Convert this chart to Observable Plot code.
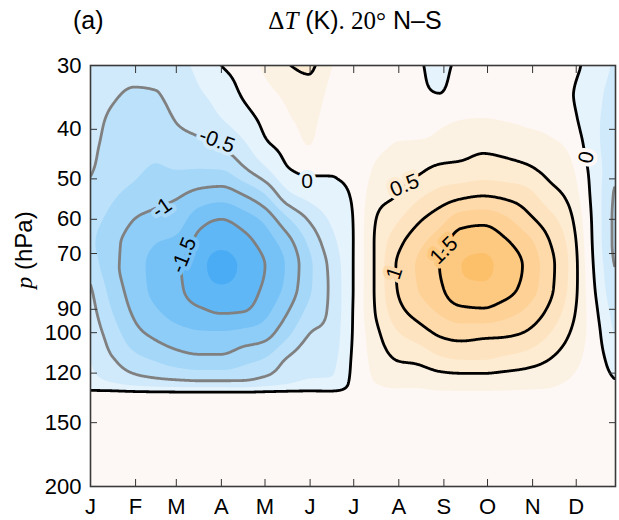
<!DOCTYPE html>
<html>
<head>
<meta charset="utf-8">
<script src="https://cdn.jsdelivr.net/npm/d3@7"></script>
<script src="https://cdn.jsdelivr.net/npm/@observablehq/plot@0.6"></script>
<style>
  body { margin: 0; background: #fff; }
  #fig { position: relative; width: 619px; height: 520px; font-family: "Liberation Sans", Arial, sans-serif; color: #000; }
  #fig svg { position: absolute; left: 0; top: 0; }
  .lbl { position: absolute; white-space: nowrap; line-height: 1; }
  .math { font-family: "Liberation Serif", "DejaVu Serif", serif; }
</style>
</head>
<body>
<div id="fig">
  <div class="lbl" style="left:73px; top:8px; font-size:25px;">(a)</div>
  <div class="lbl" style="left:225px; width:260px; top:8px; font-size:25px; text-align:center;"><span class="math">Δ<i>T</i></span> (K)<span class="math">. 20°</span> N–S</div>
  <div class="lbl" style="left:24px; top:250px; font-size:24px; transform:translate(-50%,-50%) rotate(-90deg);"><span class="math"><i>p</i></span> (hPa)</div>
</div>
<script>
// Month starts (day of year) and their initials along the time axis
const monthStarts = [0, 31, 59, 90, 120, 151, 181, 212, 243, 273, 304, 334];
const monthLabels = ["J", "F", "M", "A", "M", "J", "J", "A", "S", "O", "N", "D"];
// Pressure ticks (hPa) on the log axis
const pressureTicks = [30, 40, 50, 60, 70, 90, 100, 120, 150, 200];

// Sampling grid: day of year (columns) and pressure levels (rows)
const days = [0, 15, 30, 45, 60, 75, 90, 105, 120, 135, 150, 165, 180,
              195, 210, 225, 240, 255, 270, 285, 300, 315, 330, 345, 360];
const pressures = [30, 34, 38, 43, 48, 54, 60, 67, 74, 82, 91, 101, 112, 126, 134, 160, 200];

// Temperature difference ΔT (K), one list per day column, ordered by the pressures above
const dT = [
  [-0.35, -0.38, -0.42, -0.45, -0.48, -0.58, -0.66, -0.70, -0.62, -0.48, -0.40, -0.33, -0.26, -0.15, 0.15, 0.10, 0.10],
  [-0.40, -0.47, -0.53, -0.57, -0.62, -0.72, -0.82, -0.92, -0.92, -0.85, -0.75, -0.62, -0.49, -0.22, 0.15, 0.10, 0.10],
  [-0.42, -0.52, -0.58, -0.63, -0.70, -0.83, -1.00, -1.12, -1.15, -1.12, -1.04, -0.90, -0.68, -0.30, 0.15, 0.10, 0.10],
  [-0.42, -0.51, -0.60, -0.68, -0.78, -0.92, -1.08, -1.25, -1.33, -1.32, -1.22, -1.05, -0.80, -0.35, 0.15, 0.10, 0.10],
  [-0.30, -0.36, -0.47, -0.60, -0.75, -0.98, -1.15, -1.32, -1.47, -1.45, -1.35, -1.15, -0.90, -0.38, 0.15, 0.10, 0.10],
  [-0.20, -0.27, -0.38, -0.56, -0.76, -1.10, -1.40, -1.60, -1.68, -1.65, -1.45, -1.20, -0.95, -0.40, 0.15, 0.10, 0.10],
  [ 0.00, -0.15, -0.25, -0.48, -0.75, -1.15, -1.50, -1.70, -1.84, -1.72, -1.52, -1.20, -0.95, -0.40, 0.15, 0.10, 0.10],
  [ 0.10,  0.03, -0.10, -0.30, -0.55, -1.02, -1.38, -1.60, -1.70, -1.65, -1.50, -1.15, -0.85, -0.40, 0.15, 0.10, 0.10],
  [ 0.30,  0.18,  0.07, -0.05, -0.30, -0.78, -1.18, -1.40, -1.50, -1.45, -1.32, -1.08, -0.75, -0.33, 0.15, 0.10, 0.10],
  [ 0.48,  0.30,  0.22,  0.08, -0.03, -0.35, -0.80, -1.12, -1.22, -1.18, -1.02, -0.80, -0.50, -0.25, 0.15, 0.10, 0.10],
  [ 0.55,  0.40,  0.32,  0.25,  0.05, -0.18, -0.48, -0.72, -0.82, -0.80, -0.68, -0.50, -0.35, -0.20, 0.15, 0.10, 0.10],
  [ 0.27,  0.20,  0.14,  0.08,  0.02, -0.08, -0.22, -0.35, -0.44, -0.46, -0.45, -0.40, -0.32, -0.20, 0.15, 0.10, 0.10],
  [ 0.15,  0.13,  0.10,  0.08,  0.05,  0.02, -0.01, -0.02, -0.02, -0.02, -0.01,  0.00,  0.02,  0.05, 0.10, 0.10, 0.10],
  [ 0.12,  0.13,  0.15,  0.20,  0.27,  0.38,  0.47,  0.50,  0.50,  0.50,  0.48,  0.40,  0.33,  0.24, 0.17, 0.12, 0.10],
  [ 0.12,  0.15,  0.20,  0.26,  0.35,  0.50,  0.70,  0.90,  1.00,  0.98,  0.88,  0.70,  0.52,  0.28, 0.20, 0.12, 0.10],
  [ 0.03,  0.05,  0.16,  0.28,  0.45,  0.70,  0.95,  1.18,  1.28,  1.25,  1.10,  0.85,  0.58,  0.28, 0.20, 0.12, 0.10],
  [-0.06,  0.00,  0.20,  0.32,  0.56,  0.85,  1.15,  1.40,  1.50,  1.45,  1.28,  1.02,  0.72,  0.32, 0.20, 0.12, 0.10],
  [ 0.05,  0.12,  0.24,  0.40,  0.58,  0.95,  1.38,  1.65,  1.75,  1.70,  1.42,  1.08,  0.78,  0.33, 0.20, 0.12, 0.10],
  [ 0.06,  0.13,  0.25,  0.45,  0.62,  1.00,  1.42,  1.68,  1.80,  1.70,  1.45,  1.05,  0.78,  0.33, 0.20, 0.12, 0.10],
  [ 0.05,  0.12,  0.23,  0.42,  0.60,  0.95,  1.30,  1.55,  1.65,  1.60,  1.35,  1.03,  0.72,  0.32, 0.20, 0.12, 0.10],
  [ 0.05,  0.10,  0.20,  0.36,  0.55,  0.85,  1.08,  1.35,  1.45,  1.40,  1.20,  0.95,  0.65,  0.30, 0.20, 0.12, 0.10],
  [ 0.04,  0.08,  0.17,  0.30,  0.43,  0.62,  0.85,  1.03,  1.10,  1.08,  0.95,  0.75,  0.52,  0.28, 0.20, 0.12, 0.10],
  [ 0.05,  0.02,  0.07,  0.20,  0.30,  0.42,  0.55,  0.66,  0.70,  0.68,  0.60,  0.48,  0.35,  0.22, 0.15, 0.10, 0.10],
  [-0.10, -0.17, -0.18, -0.15, -0.08, -0.05, -0.02,  0.00,  0.03,  0.07,  0.12,  0.15,  0.15,  0.12, 0.10, 0.10, 0.10],
  [-0.28, -0.32, -0.35, -0.40, -0.45, -0.52, -0.55, -0.55, -0.50, -0.45, -0.35, -0.25, -0.12,  0.03, 0.10, 0.10, 0.10]
];

// Filled bands every 0.25 K and their colours (blue = negative, orange = positive)
const bandEdges = [-1.75, -1.5, -1.25, -1, -0.75, -0.5, -0.25, 0, 0.25, 0.5, 0.75, 1, 1.25, 1.5, 1.75];
const bandColors = ["#4aacf4", "#60b7f6", "#76c2f7", "#8dcdf8", "#a5d7f9", "#bce1fa", "#d1eafb", "#e5f3fc",
                    "#fdf8f6", "#fcf2e4", "#fdebd2", "#fde3bf", "#fedaab", "#fed196", "#fdc980", "#fcc06b"];
const fillThresholds = [-2, ...bandEdges];

// Contour lines: negative in grey, zero and positive in black
const negativeLevels = [-1.5, -1, -0.5];
const positiveLevels = [0, 0.5, 1, 1.5];

// Inline contour labels (level, day of year, pressure, text angle, band behind the text)
const contourLabels = [
  {level: -0.5, day: 87,  p: 42.1, angle: 20,  band: -0.5},
  {level: -1,   day: 49,  p: 57.0, angle: -35, band: -1},
  {level: -1.5, day: 64,  p: 70.5, angle: -68, band: -1.5},
  {level: 0,    day: 149, p: 50.6, angle: 0,   band: -0.25},
  {level: 0.5,  day: 216, p: 51.5, angle: -22, band: 0.5},
  {level: 1,    day: 209, p: 76.5, angle: -72, band: 1},
  {level: 1.5,  day: 243, p: 69.0, angle: -45, band: 1.5},
  {level: 0,    day: 341, p: 45.4, angle: -78, band: 0}
];

// Table of grid samples, row-major (pressure rows, day columns)
const grid = [];
pressures.forEach((p, j) => days.forEach((day, i) => grid.push({day, p, value: dT[i][j]})));

// Monotone (Steffen) cubic slopes for a 1-D profile
function slopes(xs, ys) {
  const n = xs.length, m = new Float64Array(n), h = [], s = [];
  for (let k = 0; k < n - 1; ++k) { h[k] = xs[k + 1] - xs[k]; s[k] = (ys[k + 1] - ys[k]) / h[k]; }
  m[0] = s[0]; m[n - 1] = s[n - 2];
  for (let k = 1; k < n - 1; ++k) {
    const p = (s[k - 1] * h[k] + s[k] * h[k - 1]) / (h[k - 1] + h[k]);
    m[k] = (Math.sign(s[k - 1]) + Math.sign(s[k])) * Math.min(Math.abs(s[k - 1]), Math.abs(s[k]), 0.5 * Math.abs(p));
  }
  return m;
}
function hermite(xs, ys, m, x) {
  const n = xs.length;
  if (x <= xs[0]) return ys[0];
  if (x >= xs[n - 1]) return ys[n - 1];
  const k = Math.min(n - 2, d3.bisectRight(xs, x) - 1);
  const h = xs[k + 1] - xs[k], t = (x - xs[k]) / h, t2 = t * t, t3 = t2 * t;
  return (2 * t3 - 3 * t2 + 1) * ys[k] + (t3 - 2 * t2 + t) * h * m[k]
       + (-2 * t3 + 3 * t2) * ys[k + 1] + (t3 - t2) * h * m[k + 1];
}
// Smooth interpolation of the regular sample grid onto the raster
function monotoneGrid(index, width, height, X, Y, V) {
  const nx = days.length, ny = pressures.length;
  let gx = Array.from({length: nx}, (_, i) => X[i]);
  let gy = Array.from({length: ny}, (_, j) => Y[j * nx]);
  let ix = d3.range(nx), iy = d3.range(ny);
  if (gx[0] > gx[nx - 1]) { gx.reverse(); ix.reverse(); }
  if (gy[0] > gy[ny - 1]) { gy.reverse(); iy.reverse(); }
  const cols = ix.map((i) => iy.map((j) => V[j * nx + i]));
  const colSlopes = cols.map((c) => slopes(gy, c));
  const out = new Float64Array(width * height);
  const row = new Array(nx);
  for (let r = 0; r < height; ++r) {
    for (let c = 0; c < nx; ++c) row[c] = hermite(gy, cols[c], colSlopes[c], r + 0.5);
    const m = slopes(gx, row);
    for (let q = 0; q < width; ++q) out[r * width + q] = hermite(gx, row, m, q + 0.5);
  }
  return out;
}

// Raster bounds a little beyond the frame so contour outlines never run along its edges
const bounds = {x1: -12, x2: 373, y1: 28, y2: 215, clip: true, pixelSize: 1, interpolate: monotoneGrid};

const chart = Plot.plot({
  width: 619,
  height: 520,
  marginTop: 65,
  marginBottom: 34,
  marginLeft: 90,
  marginRight: 4,
  style: {fontFamily: "Liberation Sans, Arial, sans-serif", fontSize: "22px", color: "#000", background: "transparent"},
  x: {domain: [0, 361]},
  y: {type: "log", domain: [30, 200], reverse: true},
  color: {type: "threshold", domain: bandEdges, range: bandColors},
  marks: [
    Plot.frame({fill: bandColors[0], stroke: "none"}),
    Plot.contour(grid, {x: "day", y: "p", fill: "value", thresholds: fillThresholds, stroke: "none", ...bounds}),
    Plot.contour(grid, {x: "day", y: "p", value: "value", thresholds: negativeLevels, fill: "none",
                        stroke: "#808080", strokeWidth: 2.8, strokeLinejoin: "round", ...bounds}),
    Plot.contour(grid, {x: "day", y: "p", value: "value", thresholds: positiveLevels, fill: "none",
                        stroke: "#000", strokeWidth: 2.8, strokeLinejoin: "round", ...bounds}),
    Plot.text(contourLabels, {x: "day", y: "p", text: (d) => String(d.level), rotate: "angle",
                              fill: "#000", stroke: "band", strokeWidth: 8, paintOrder: "stroke",
                              fontSize: 21}),
    Plot.axisX(monthStarts, {anchor: "bottom", tickSize: 0, tickPadding: 12, label: null,
                             tickFormat: (d) => monthLabels[monthStarts.indexOf(d)]}),
    Plot.axisX(monthStarts, {anchor: "bottom", tickSize: -7, tickFormat: () => "", label: null, stroke: "#333"}),
    Plot.axisX(monthStarts, {anchor: "top", tickSize: -7, tickFormat: () => "", label: null, stroke: "#333"}),
    Plot.axisY(pressureTicks, {anchor: "left", tickSize: 0, tickPadding: 9, label: null, tickFormat: (d) => String(d)}),
    Plot.axisY(pressureTicks, {anchor: "left", tickSize: -7, tickFormat: () => "", label: null, stroke: "#333"}),
    Plot.axisY(pressureTicks, {anchor: "right", tickSize: -7, tickFormat: () => "", label: null, stroke: "#333"}),
    Plot.frame({stroke: "#3a3a3a", strokeWidth: 1.6})
  ]
});
document.getElementById("fig").prepend(chart);
</script>
</body>
</html>
